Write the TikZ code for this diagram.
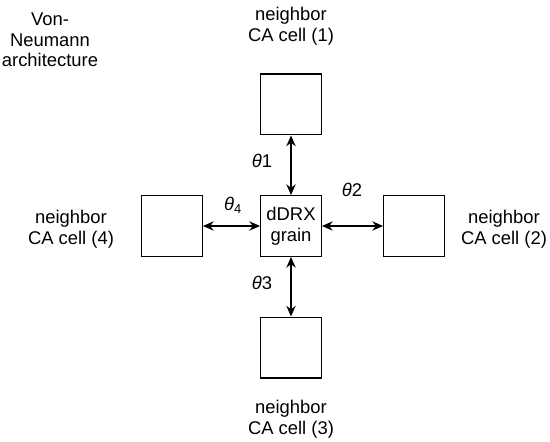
\documentclass[tikz,border=0pt]{standalone}
\usepackage{fontspec}
\setmainfont{Liberation Sans}
\usetikzlibrary{arrows.meta}
\begin{document}
\begin{tikzpicture}[x=0.75pt,y=-0.75pt,>={Stealth[length=8pt,width=7pt]},
	cell/.style={draw,line width=1pt,minimum size=45.5pt,inner sep=0pt,align=center},
	txt/.style={align=center,font=\fontsize{13.8}{15.5}\selectfont},
	link/.style={<->,line width=1pt}]
				\useasboundingbox (0,0) rectangle (550,442);
				
				% Cells
				\node[cell,txt] (G) at (291,226) {dDRX\\grain};
				\node[cell] (N1) at (291,104.5) {};
				\node[cell] (N2) at (414,226) {};
				\node[cell] (N3) at (291,347.5) {};
				\node[cell] (N4) at (172,226) {};
				
				% Arrows
				\draw[link] (G.north)--(N1.south);
				\draw[link] (G.east)--(N2.west);
				\draw[link] (G.south)--(N3.north);
				\draw[link] (G.west)--(N4.east);
				
				% Labels
				\node[txt] (T) at (50,40) {Von-\\Neumann\\architecture};
				\foreach \n/\p in {1/{291,26},2/{504,229},3/{291,419},4/{71,229}}
				\node[txt] (L\n) at (\p) {neighbor\\CA cell (\n)};
				
				% Angles
				\node[txt] (A1) at (262,161) {\itshape θ\upshape 1};
				\node[txt] (A2) at (352,190) {\itshape θ\upshape 2};
				\node[txt] (A3) at (262,283) {\itshape θ\upshape 3};
				\node[txt] (A4) at (233,205) {\itshape θ\upshape\textsubscript{4}};
			\end{tikzpicture}
\end{document}
